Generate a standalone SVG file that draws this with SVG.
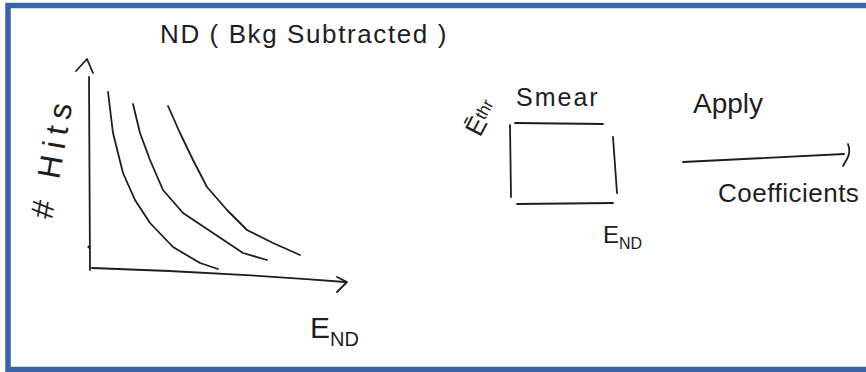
<svg xmlns="http://www.w3.org/2000/svg" width="866" height="372" viewBox="0 0 866 372">
<style>
.ink{fill:none;stroke:#1e1e1e;stroke-width:1.8;stroke-linecap:round;stroke-linejoin:round}
.t{font-family:"Liberation Sans",Arial,sans-serif;fill:#1e1e1e}
</style>
<rect x="0" y="0" width="866" height="372" fill="#ffffff"/>
<path d="M8 372 V5.5 H870 M8 369.5 H870" fill="none" stroke="#3a66a8" stroke-width="5.5"/>
<g id="plot">
<text class="t" x="160" y="43" font-size="26" letter-spacing="1.6">ND ( Bkg Subtracted )</text>
<g class="ink">
<path d="M89 77 L90 270"/>
<path d="M76 71 L87 59 L93 73"/>
<path d="M92 268 Q220 272 345 282"/>
<path d="M337 277 L347 282 L337 292"/>
<polyline points="108,92 113,133 123,173 135,200 150,223 173,247 200,263 218,269"/>
<polyline points="133,104 140,133 150,160 163,190 183,213 213,233 243,253 267,260"/>
<polyline points="168,106 180,133 193,160 207,187 227,210 247,230 273,243 300,255"/>
</g>
<circle cx="89" cy="247" r="1.6" fill="#1e1e1e"/>
<text class="t" font-size="32" letter-spacing="7" transform="translate(52 220) rotate(-80)"># Hits</text>
<text class="t" x="310" y="338" font-size="30">E<tspan font-size="20" dy="8">ND</tspan></text>
</g>
<g id="smear">
<text class="t" x="516" y="106" font-size="25" letter-spacing="2">Smear</text>
<text class="t" font-size="26" transform="translate(480 138) rotate(-62)">Ē<tspan font-size="17" dy="-4">thr</tspan></text>
<g class="ink">
<path d="M515 123 L603 124"/>
<path d="M510 125 L511 197"/>
<path d="M613 137 L617 193"/>
<path d="M517 204 L613 203"/>
</g>
<text class="t" x="603" y="243" font-size="24">E<tspan font-size="16" dy="6">ND</tspan></text>
</g>
<g id="apply">
<text class="t" x="693" y="113" font-size="28">Apply</text>
<g class="ink">
<path d="M683 162 L844 154"/>
<path d="M848 144 Q851 152 847 159 L843 166"/>
</g>
<text class="t" x="718" y="202" font-size="26" letter-spacing="0.5">Coefficients</text>
</g>
</svg>
